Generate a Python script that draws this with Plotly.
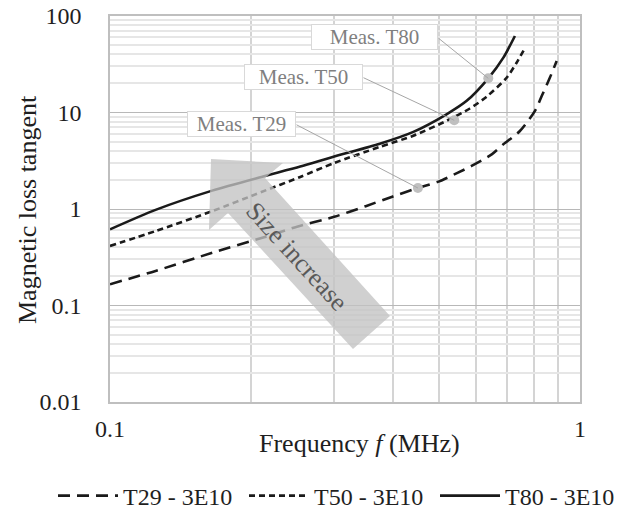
import math
import plotly.graph_objects as go

# Magnetic loss tangent of 3E10 toroids (T29, T50, T80) versus frequency
freq_t29 = [0.1, 0.125, 0.165, 0.21, 0.25, 0.3, 0.35, 0.4, 0.452, 0.5, 0.55,
            0.588, 0.65, 0.687, 0.745, 0.802, 0.829, 0.863, 0.892]
tan_t29 = [0.166, 0.228, 0.352, 0.50, 0.656, 0.83, 1.07, 1.35, 1.65, 1.92, 2.38,
           2.8, 3.7, 4.68, 6.43, 10.4, 14.8, 23.0, 34.2]

freq_t50 = [0.1, 0.125, 0.165, 0.21, 0.254, 0.3, 0.375, 0.442, 0.52, 0.583,
            0.632, 0.698, 0.733, 0.761]
tan_t50 = [0.414, 0.59, 0.95, 1.5, 2.15, 3.0, 4.4, 5.75, 8.2, 11.0,
           14.5, 22.9, 32.8, 45.2]

freq_t80 = [0.1, 0.125, 0.165, 0.21, 0.254, 0.3, 0.375, 0.442, 0.52, 0.574,
            0.638, 0.687, 0.727]
tan_t80 = [0.616, 0.98, 1.55, 2.15, 2.75, 3.5, 4.75, 6.3, 9.58, 13.2,
           22.6, 37.0, 62.0]

series_names = ["T29 - 3E10", "T50 - 3E10", "T80 - 3E10"]

# Measured points highlighted on each curve
meas_labels = ["Meas. T29", "Meas. T50", "Meas. T80"]
meas_freq = [0.452, 0.54, 0.638]
meas_tan = [1.65, 8.3, 22.6]

x_ticks = [0.1, 1]
x_minor = [0.2, 0.3, 0.4, 0.5, 0.6, 0.7, 0.8, 0.9]
y_ticks = [0.01, 0.1, 1, 10, 100]
y_minor = [m * 10.0 ** e for e in range(-2, 2) for m in range(2, 10)]

W, H = 631, 512
L, R, T, B = 110, 51, 16, 110
PW, PH = W - L - R, H - T - B

FONT = "Liberation Serif, Times New Roman, Times, serif"
TXT = "#1f1f1f"


def paper(px, py):
    return (px - L) / PW, (H - B - py) / PH


fig = go.Figure()

styles = [dict(dash="12px,7px"), dict(dash="6px,4px"), dict(dash="solid")]
for name, fx, fy, st in zip(series_names, [freq_t29, freq_t50, freq_t80],
                            [tan_t29, tan_t50, tan_t80], styles):
    fig.add_trace(go.Scatter(
        x=fx, y=fy, mode="lines", name=name,
        line=dict(color="#1a1a1a", width=2.6, shape="spline", smoothing=0.7, **st),
    ))

fig.add_trace(go.Scatter(
    x=meas_freq, y=meas_tan, mode="markers", showlegend=False,
    marker=dict(size=10, color="#bfbfbf"), hoverinfo="skip",
))

annotations = []

# Label boxes with leader lines to the measured points
box_centers = [(241.5, 123.5), (303.5, 76.5), (374.5, 37.5)]
box_widths = [105, 115, 123]
leader_tails = [(295, 124), (362, 77), (437, 37)]
for lab, fx, fy, (cx, cy), bw, (tx, ty) in zip(meas_labels, meas_freq, meas_tan,
                                               box_centers, box_widths, leader_tails):
    px, py = paper(cx, cy)
    annotations.append(dict(
        x=px, y=py, xref="paper", yref="paper", text=lab, showarrow=False,
        font=dict(family=FONT, size=21, color="#7f7f7f"),
        bgcolor="white", bordercolor="#d9d9d9", borderwidth=1, borderpad=1,
        width=bw, height=22, xanchor="center", yanchor="middle",
    ))
    annotations.append(dict(
        x=math.log10(fx), y=math.log10(fy), xref="x", yref="y",
        ax=(tx - L) / PW - 1, ay=2 - (ty - T) / (PH / 4), axref="x", ayref="y",
        text="", showarrow=True, arrowhead=0, arrowwidth=1,
        arrowcolor="#a6a6a6", standoff=0, startstandoff=0,
    ))

# Axis titles
tx, ty = paper(359, 443)
annotations.append(dict(
    x=tx, y=ty, xref="paper", yref="paper", showarrow=False,
    text="Frequency <i>f</i> (MHz)", font=dict(family=FONT, size=26, color=TXT),
    xanchor="center", yanchor="middle",
))
tx, ty = paper(27, 210)
annotations.append(dict(
    x=tx, y=ty, xref="paper", yref="paper", showarrow=False, textangle=-90,
    text="Magnetic loss tangent", font=dict(family=FONT, size=26, color=TXT),
    xanchor="center", yanchor="middle",
))

# "Size increase" arrow label
tx, ty = paper(297, 256)
annotations.append(dict(
    x=tx, y=ty, xref="paper", yref="paper", showarrow=False, textangle=47.5,
    text="Size increase", font=dict(family=FONT, size=26, color="#595959"),
    xanchor="center", yanchor="middle",
))

arrow_px = [(211, 159), (283, 163), (265, 178), (390, 316), (353, 349),
            (228, 213), (209, 230)]
pts = [paper(a, b) for a, b in arrow_px]
path = "M " + " L ".join(f"{a:.4f},{b:.4f}" for a, b in pts) + " Z"

fig.update_layout(
    width=W, height=H,
    margin=dict(l=L, r=R, t=T, b=B, autoexpand=False),
    paper_bgcolor="white", plot_bgcolor="white",
    font=dict(family=FONT, size=23, color=TXT),
    showlegend=True,
    legend=dict(orientation="h", x=(53 - L) / PW, xanchor="left",
                y=(H - B - 496) / PH, yanchor="middle",
                font=dict(family=FONT, size=24, color=TXT),
                itemwidth=60, entrywidth=116, entrywidthmode="pixels",
                bgcolor="rgba(0,0,0,0)"),
    annotations=annotations,
    shapes=[dict(type="path", path=path, xref="paper", yref="paper",
                 fillcolor="rgba(195,195,195,0.78)", line=dict(width=0),
                 layer="above")],
)

fig.update_xaxes(
    type="log", range=[-1, 0], tickvals=x_ticks, ticktext=["0.1", "1"],
    showgrid=True, gridcolor="#d4d4d4", gridwidth=1.5,
    showline=True, linecolor="#bfbfbf", linewidth=1.5, mirror=True,
    ticks="", ticklabelstandoff=4, tickfont=dict(family=FONT, size=24, color=TXT),
    minor=dict(tickvals=x_minor, showgrid=True, gridcolor="#d4d4d4",
               gridwidth=1.5, ticks=""),
    zeroline=False,
)
fig.update_yaxes(
    type="log", range=[-2, 2], tickvals=y_ticks,
    ticktext=["0.01", "0.1", "1", "10", "100"],
    showgrid=True, gridcolor="#b8b8b8", gridwidth=1.2,
    showline=True, linecolor="#bfbfbf", linewidth=1.5, mirror=True,
    ticks="", ticklabelstandoff=22, tickfont=dict(family=FONT, size=24, color=TXT),
    minor=dict(tickvals=y_minor, showgrid=True, gridcolor="#e6e6e6",
               gridwidth=1.5, ticks=""),
    zeroline=False,
)

fig.write_html("out.html")
